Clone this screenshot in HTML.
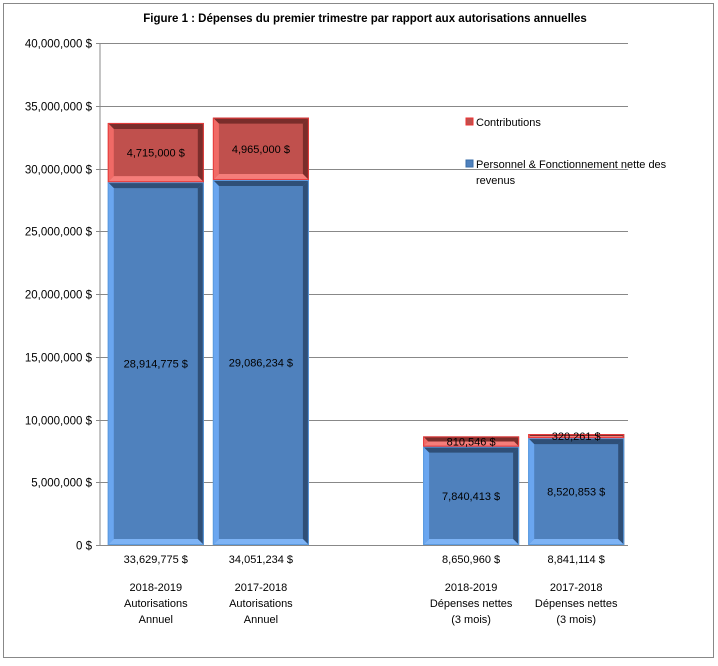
<!DOCTYPE html>
<html><head><meta charset="utf-8"><style>
body{margin:0;background:#fff;font-family:"Liberation Sans",Arial,sans-serif;}
svg text{font-family:"Liberation Sans",Arial,sans-serif;}
</style></head><body>
<svg id="c" width="718" height="661">
<rect x="3.5" y="3.5" width="710" height="654" fill="#fff" stroke="#888"/>
<text x="365" y="22" text-anchor="middle" font-size="11.5" font-weight="bold">Figure 1 : Dépenses du premier  trimestre par rapport aux autorisations annuelles</text>
<g id="grid"></g><g id="bars"></g><g id="labels"></g>
<g>
<rect x="466" y="118" width="7" height="7" fill="#c0504d" stroke="#e33"/>
<text x="476" y="126" font-size="11">Contributions</text>
<rect x="466" y="160" width="7" height="7" fill="#4f81bd" stroke="#3a6ea8"/>
<text x="476" y="168" font-size="11">Personnel &amp; Fonctionnement nette des</text>
<text x="476" y="184" font-size="11">revenus</text>
</g>
</svg>
<script>
const slots=[0,1,3,4];
const catLines=[["2018-2019","Autorisations","Annuel"],["2017-2018","Autorisations","Annuel"],["2018-2019","Dépenses nettes","(3 mois)"],["2017-2018","Dépenses nettes","(3 mois)"]];
const personnel=[28914775,29086234,7840413,8520853];
const contributions=[4715000,4965000,810546,320261];
const totals=["33,629,775 $","34,051,234 $","8,650,960 $","8,841,114 $"];
const yTicks=[0,5000000,10000000,15000000,20000000,25000000,30000000,35000000,40000000];
const ns="http://www.w3.org/2000/svg";
const X0=100,X1=628,Y0=545,Y1=43,MAX=40000000,NS=5;
const y=v=>Y0-(v/MAX)*(Y0-Y1);
const slotW=(X1-X0)/NS;
const xc=i=>X0+slotW*(slots[i]+0.5)+3-slots[i]*0.5;
const fmt=v=>v.toLocaleString('en-US')+" $";
function el(t,a,p,name){const e=document.createElementNS(ns,t);for(const k in a)e.setAttribute(k,a[k]);


p.appendChild(e);return e;}
const grid=document.getElementById('grid'),bars=document.getElementById('bars'),lab=document.getElementById('labels');
el('line',{x1:X0,x2:X0,y1:Y1,y2:Y0,stroke:'#888'},grid,'y-axis');
yTicks.forEach(v=>{const yy=Math.round(y(v))+0.5;
el('line',{x1:X0-4,x2:X1,y1:yy,y2:yy,stroke:'#888'},grid,'gridline');
const t=el('text',{x:92,y:yy+4,'text-anchor':'end','font-size':11.5},grid,'y-tick-label');t.textContent=fmt(v);});
function bevel(x0,y0,x1,y1,cols,name){
 const b=Math.min(6,(y1-y0)/2),g=el('g',{},bars,name);
 el('rect',{x:x0,y:y0,width:x1-x0,height:y1-y0,fill:cols.face},g,name+'-face');
 el('polygon',{points:`${x0},${y0} ${x1},${y0} ${x1-b},${y0+b} ${x0+b},${y0+b}`,fill:cols.top},g,name+'-top-bevel');
 el('polygon',{points:`${x0},${y0} ${x0+b},${y0+b} ${x0+b},${y1-b} ${x0},${y1}`,fill:cols.left},g,name+'-left-bevel');
 el('polygon',{points:`${x1},${y0} ${x1},${y1} ${x1-b},${y1-b} ${x1-b},${y0+b}`,fill:cols.right},g,name+'-right-bevel');
 el('polygon',{points:`${x0},${y1} ${x1},${y1} ${x1-b},${y1-b} ${x0+b},${y1-b}`,fill:cols.bottom},g,name+'-bottom-bevel');
 el('rect',{x:x0+0.5,y:y0+0.5,width:x1-x0-1,height:Math.max(0,y1-y0-1),fill:'none',stroke:cols.edge,'stroke-width':1},g,name+'-edge');
}
const blue={face:'#4f81bd',top:'#2f4f77',left:'#6aa6f0',right:'#2f4f77',bottom:'#7db3f5',edge:'#5b9be0'};
const red={face:'#c0504d',top:'#7a2d2b',left:'#f06a66',right:'#7a2d2b',bottom:'#f57d7a',edge:'#e83c3c'};
personnel.forEach((p,i)=>{
 const c=contributions[i],cx=xc(i),x0=cx-48,x1=cx+48;
 bevel(x0,y(p),x1,Y0,blue,'bar-personnel-'+i);
 bevel(x0,y(p+c),x1,y(p),red,'bar-contributions-'+i);
 let t=el('text',{x:cx,y:(y(p)+Y0)/2+4,'text-anchor':'middle','font-size':11},lab,'value-personnel');t.textContent=fmt(p);
 t=el('text',{x:cx,y:(y(p+c)+y(p))/2+4,'text-anchor':'middle','font-size':11},lab,'value-contributions');t.textContent=fmt(c);
 t=el('text',{x:cx,y:563,'text-anchor':'middle','font-size':11},lab,'total-label');t.textContent=totals[i];
 catLines[i].forEach((s,k)=>{const tt=el('text',{x:cx,y:591+k*16,'text-anchor':'middle','font-size':11},lab,'category-label');tt.textContent=s;});
});
</script>
</body></html>
